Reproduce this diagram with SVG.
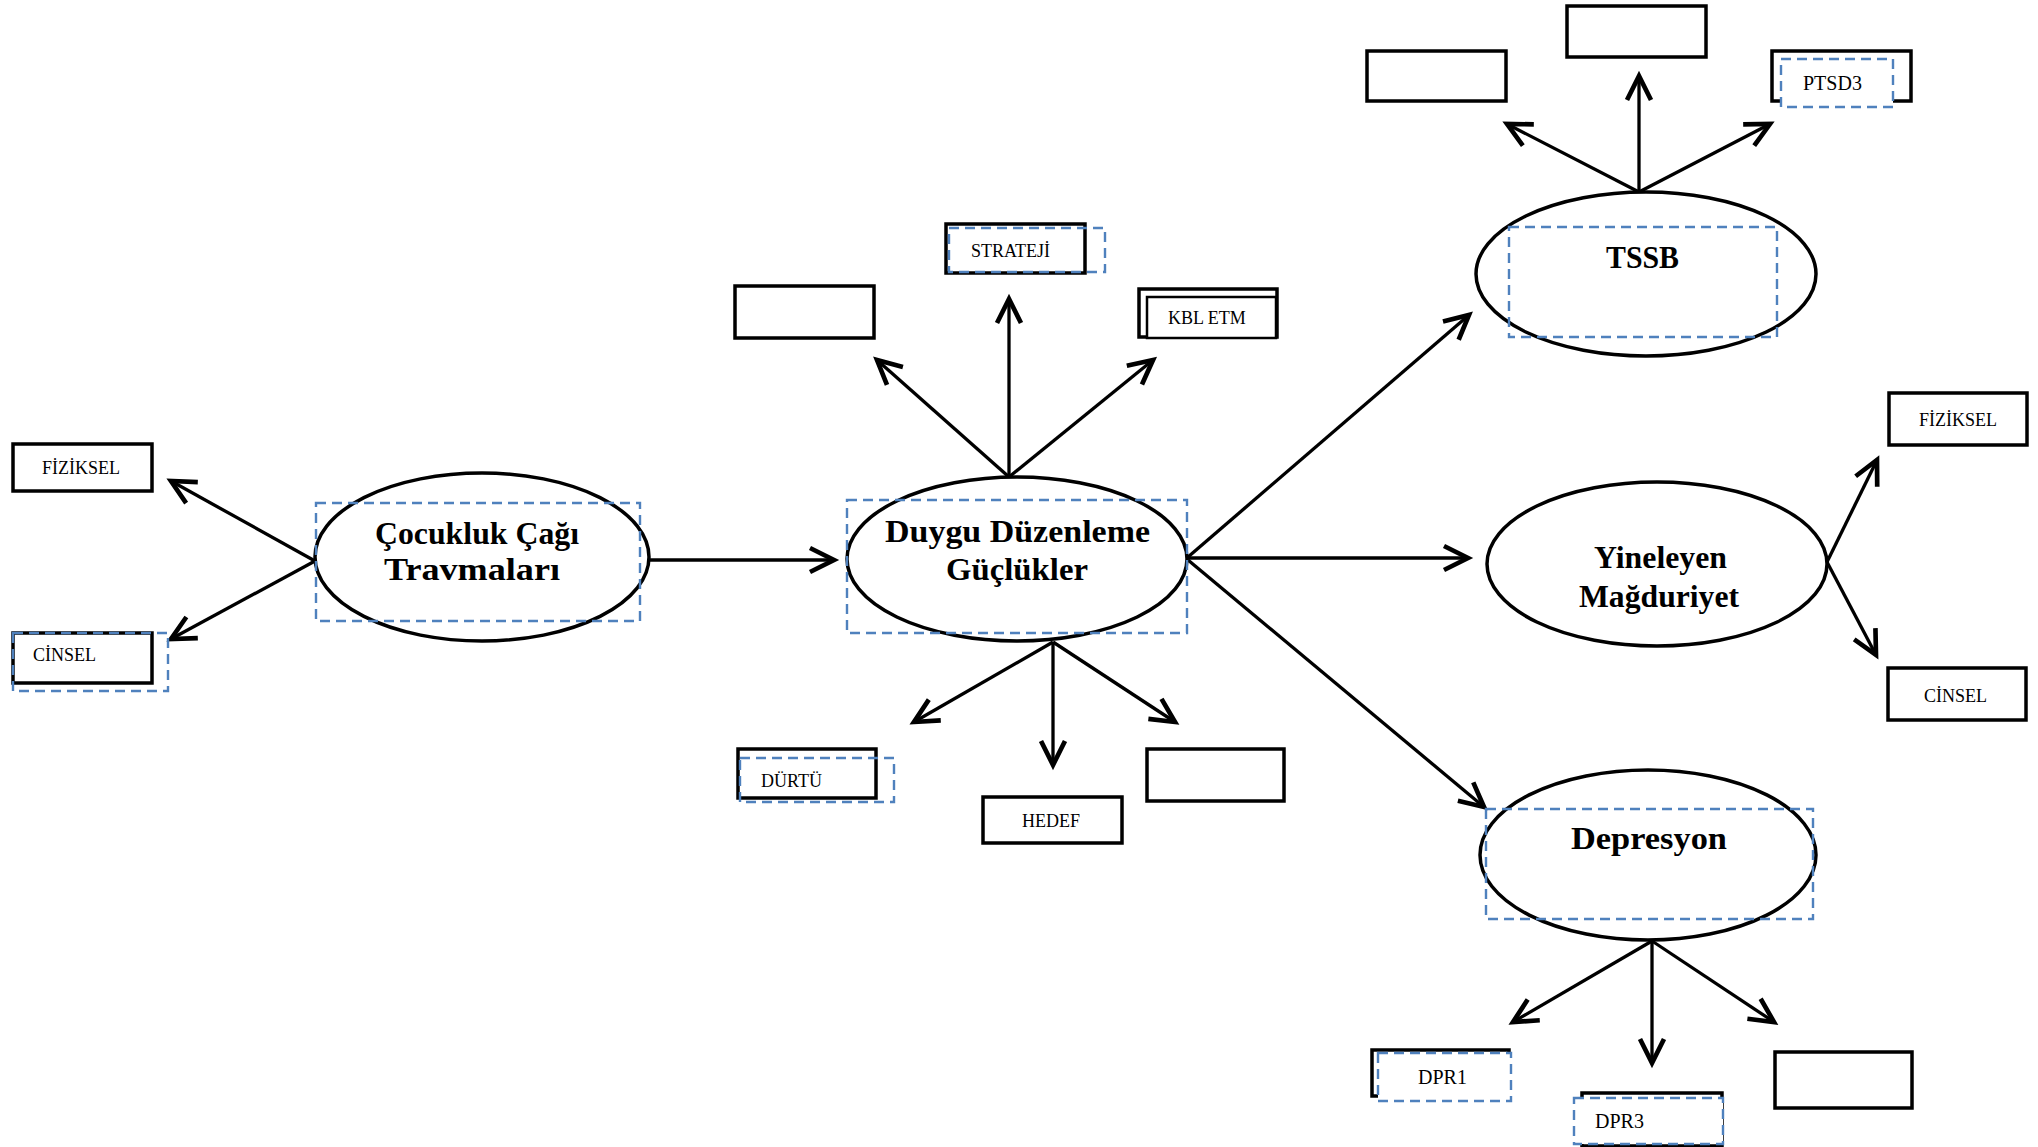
<svg xmlns="http://www.w3.org/2000/svg" width="2038" height="1147" viewBox="0 0 2038 1147">
<style>
.bx{fill:#fff;stroke:#000;stroke-width:3.5}
.el{fill:#fff;stroke:#000;stroke-width:3.5}
.dsh{fill:none;stroke:#4F81BD;stroke-width:2.4;stroke-dasharray:10 6}
.dshw{fill:#fff;stroke:#4F81BD;stroke-width:2.4;stroke-dasharray:10 6}
.ln{fill:none;stroke:#000;stroke-width:3.3;marker-end:url(#ah)}
.sm{font-family:"Liberation Serif","Times New Roman",serif;font-size:18px;fill:#000}
.sm2{font-family:"Liberation Serif","Times New Roman",serif;font-size:20px;fill:#000}
.big{font-family:"Liberation Serif","Times New Roman",serif;font-size:31px;font-weight:bold;fill:#000}
</style>
<defs>
<marker id="ah" markerUnits="userSpaceOnUse" markerWidth="40" markerHeight="40" viewBox="-25 -15 30 30" refX="0" refY="0" orient="auto" overflow="visible">
<path d="M-18,-9 L0,0 L-18,9" fill="none" stroke="#000" stroke-width="3.5"/>
</marker>
</defs>
<rect width="2038" height="1147" fill="#fff"/>

<g id="connectors">
<line class="ln" x1="315" y1="561" x2="171" y2="481"/>
<line class="ln" x1="315" y1="561" x2="171" y2="639"/>
<line class="ln" x1="649" y1="560" x2="834" y2="560"/>
<line class="ln" x1="1009" y1="477" x2="877" y2="360"/>
<line class="ln" x1="1009" y1="477" x2="1009" y2="299"/>
<line class="ln" x1="1009" y1="477" x2="1153" y2="360"/>
<line class="ln" x1="1053" y1="642" x2="914" y2="722"/>
<line class="ln" x1="1053" y1="642" x2="1053" y2="765"/>
<line class="ln" x1="1053" y1="642" x2="1175" y2="722"/>
<line class="ln" x1="1188" y1="557" x2="1469" y2="315"/>
<line class="ln" x1="1188" y1="558" x2="1468" y2="558"/>
<line class="ln" x1="1188" y1="560" x2="1484" y2="807"/>
<line class="ln" x1="1639" y1="192" x2="1507" y2="124"/>
<line class="ln" x1="1639" y1="192" x2="1639" y2="76"/>
<line class="ln" x1="1639" y1="192" x2="1770" y2="124"/>
<line class="ln" x1="1827" y1="562" x2="1877" y2="460"/>
<line class="ln" x1="1827" y1="562" x2="1876" y2="655"/>
<line class="ln" x1="1652" y1="941" x2="1513" y2="1022"/>
<line class="ln" x1="1652" y1="941" x2="1652" y2="1063"/>
<line class="ln" x1="1652" y1="941" x2="1774" y2="1022"/>
</g>

<g id="cocukluk">
<ellipse class="el" cx="482" cy="557" rx="167" ry="84"/>
<rect class="dsh" x="316" y="503" width="324" height="118"/>
<text class="big" x="375" y="544" textLength="204" lengthAdjust="spacingAndGlyphs">Çocukluk Çağı</text>
<text class="big" x="384" y="580" textLength="176" lengthAdjust="spacingAndGlyphs">Travmaları</text>
</g>
<g id="fiziksel1">
<rect class="bx" x="13" y="444" width="139" height="47"/>
<text class="sm" x="42" y="474">FİZİKSEL</text>
</g>
<g id="cinsel1">
<rect class="bx" x="13" y="633" width="139" height="50"/>
<rect class="dsh" x="13" y="633" width="155" height="58"/>
<text class="sm" x="33" y="661">CİNSEL</text>
</g>

<g id="duygu">
<ellipse class="el" cx="1017" cy="559" rx="170" ry="82"/>
<rect class="dsh" x="847" y="500" width="340" height="133"/>
<text class="big" x="885" y="542" textLength="265" lengthAdjust="spacingAndGlyphs">Duygu Düzenleme</text>
<text class="big" x="946" y="580" textLength="142" lengthAdjust="spacingAndGlyphs">Güçlükler</text>
</g>
<g id="duygu-empty1">
<rect class="bx" x="735" y="286" width="139" height="52"/>
</g>
<g id="strateji">
<rect class="bx" x="946" y="224" width="139" height="49"/>
<rect class="dsh" x="949" y="228" width="156" height="44"/>
<text class="sm" x="971" y="257">STRATEJİ</text>
</g>
<g id="kblEtm">
<rect class="bx" x="1139" y="289" width="138" height="48"/>
<rect class="bx" x="1147" y="297" width="129" height="41" style="stroke-width:2.5"/>
<text class="sm" x="1168" y="324">KBL ETM</text>
</g>
<g id="durtu">
<rect class="bx" x="738" y="749" width="138" height="49"/>
<rect class="dsh" x="740" y="758" width="154" height="44"/>
<text class="sm" x="761" y="787">DÜRTÜ</text>
</g>
<g id="hedef">
<rect class="bx" x="983" y="797" width="139" height="46"/>
<text class="sm" x="1022" y="827">HEDEF</text>
</g>
<g id="duygu-empty2">
<rect class="bx" x="1147" y="749" width="137" height="52"/>
</g>

<g id="tssb">
<ellipse class="el" cx="1646" cy="274" rx="170" ry="82"/>
<rect class="dsh" x="1509" y="227" width="268" height="110"/>
<text class="big" x="1606" y="268" textLength="73" lengthAdjust="spacingAndGlyphs">TSSB</text>
</g>
<g id="tssb-empty1">
<rect class="bx" x="1367" y="51" width="139" height="50"/>
</g>
<g id="tssb-empty2">
<rect class="bx" x="1567" y="6" width="139" height="51"/>
</g>
<g id="ptsd3">
<rect class="bx" x="1772" y="51" width="139" height="50"/>
<rect class="dshw" x="1781" y="59" width="112" height="48"/>
<text class="sm2" x="1803" y="90">PTSD3</text>
</g>

<g id="yineleyen">
<ellipse class="el" cx="1657" cy="564" rx="170" ry="82"/>
<text class="big" x="1594" y="568" textLength="133" lengthAdjust="spacingAndGlyphs">Yineleyen</text>
<text class="big" x="1579" y="607" textLength="160" lengthAdjust="spacingAndGlyphs">Mağduriyet</text>
</g>
<g id="fiziksel2">
<rect class="bx" x="1889" y="393" width="138" height="52"/>
<text class="sm" x="1919" y="426">FİZİKSEL</text>
</g>
<g id="cinsel2">
<rect class="bx" x="1888" y="668" width="138" height="52"/>
<text class="sm" x="1924" y="702">CİNSEL</text>
</g>

<g id="depresyon">
<ellipse class="el" cx="1648" cy="855" rx="168" ry="85"/>
<rect class="dsh" x="1486" y="809" width="327" height="110"/>
<text class="big" x="1571" y="849" textLength="156" lengthAdjust="spacingAndGlyphs">Depresyon</text>
</g>
<g id="dpr1">
<rect class="bx" x="1372" y="1050" width="137" height="46"/>
<rect class="dshw" x="1378" y="1053" width="133" height="48"/>
<text class="sm2" x="1418" y="1084">DPR1</text>
</g>
<g id="dpr3">
<rect class="bx" x="1582" y="1093" width="140" height="53"/>
<rect class="dshw" x="1574" y="1098" width="149" height="46"/>
<text class="sm2" x="1595" y="1128">DPR3</text>
</g>
<g id="dep-empty">
<rect class="bx" x="1775" y="1052" width="137" height="56"/>
</g>
</svg>
